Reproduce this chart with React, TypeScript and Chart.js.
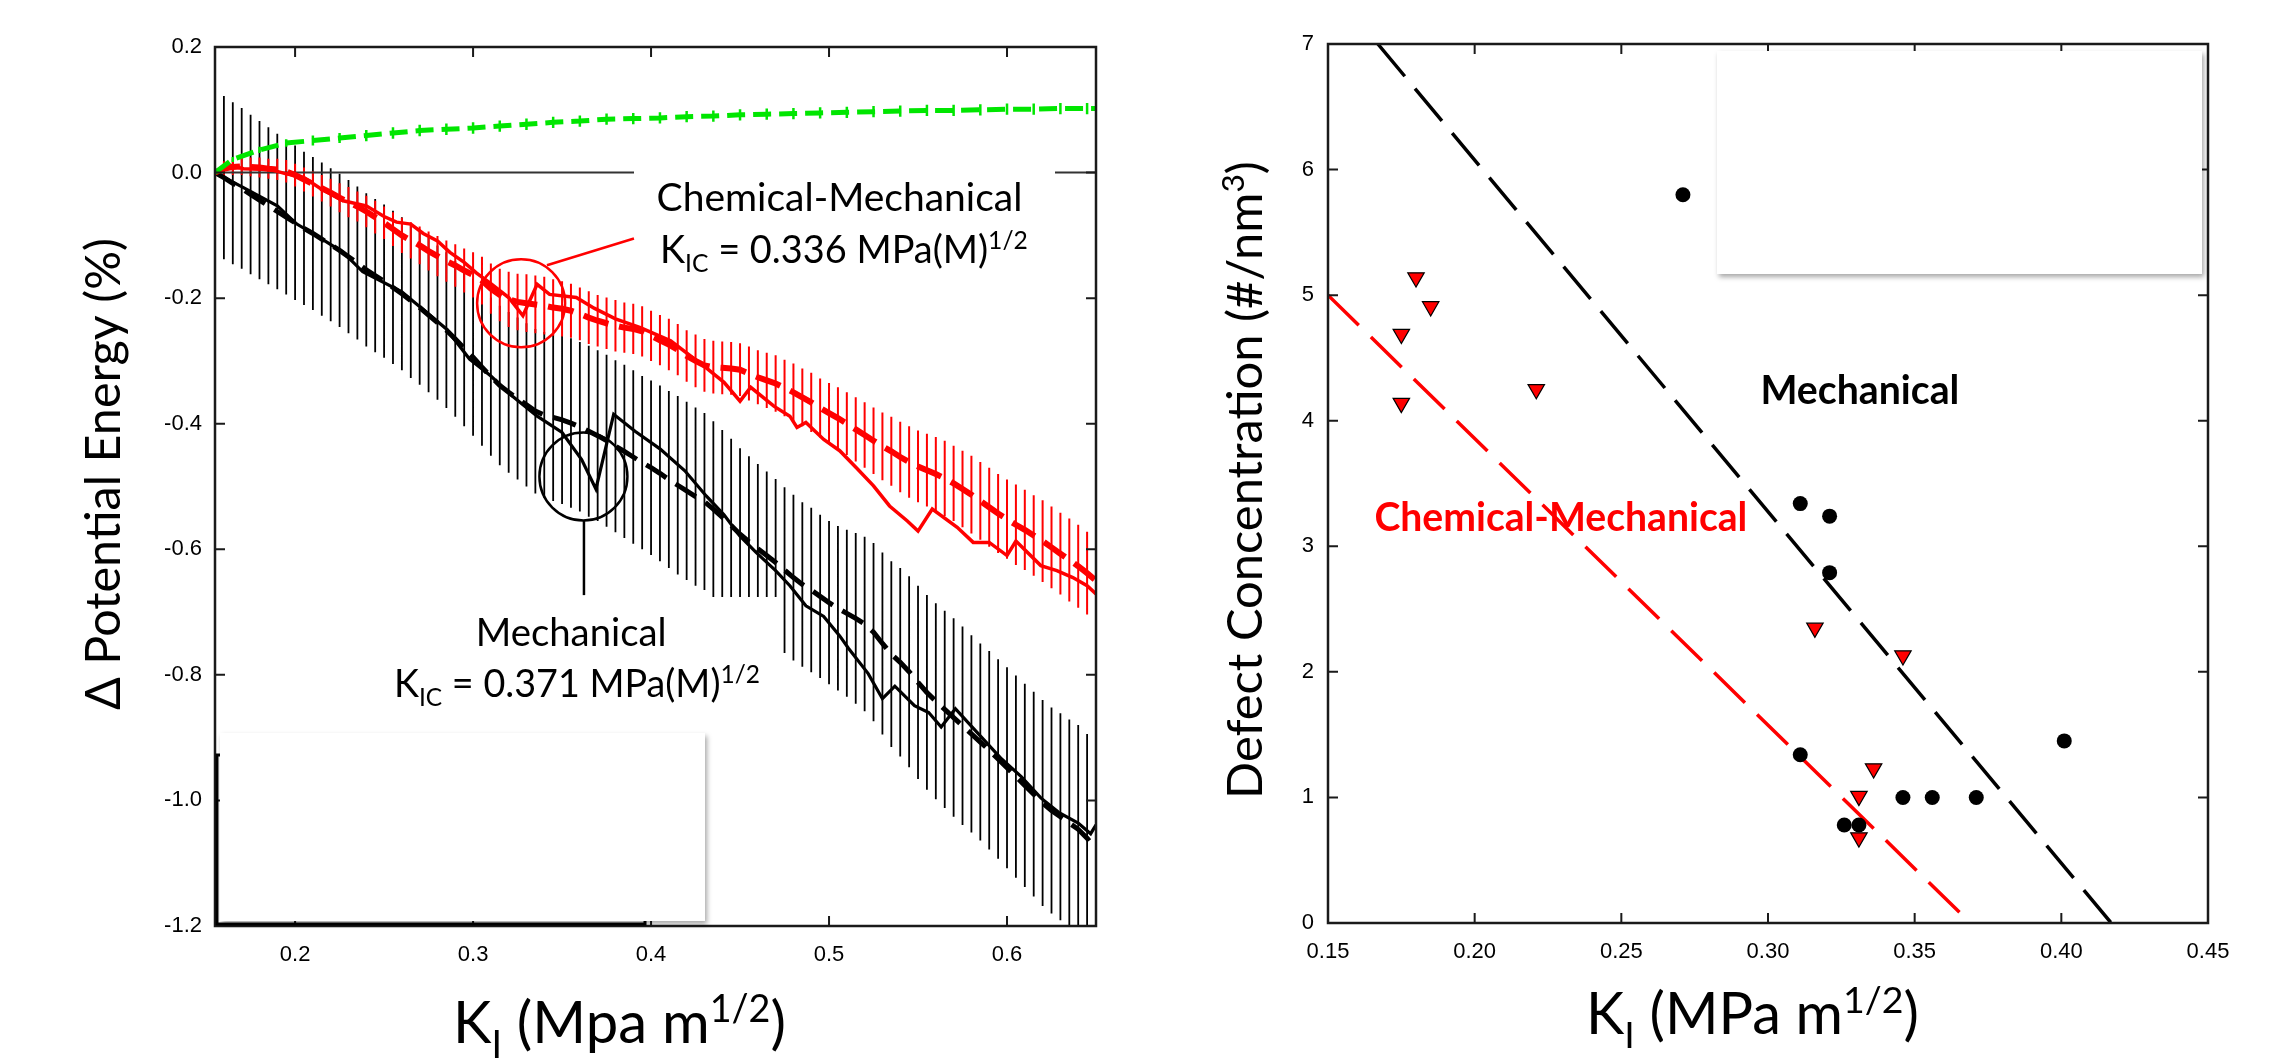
import React, { useEffect, useRef } from "react";
import { Chart, registerables } from "chart.js";

Chart.register(...registerables);

// ================= Left panel: change of potential energy vs K_I =================
const kGrid = [
  0.155, 0.16, 0.165, 0.17, 0.175, 0.18, 0.185, 0.19, 0.195, 0.2,
  0.205, 0.21, 0.215, 0.22, 0.225, 0.23, 0.235, 0.24, 0.245, 0.25,
  0.255, 0.26, 0.265, 0.27, 0.275, 0.28, 0.285, 0.29, 0.295, 0.3,
  0.305, 0.31, 0.315, 0.32, 0.325, 0.33, 0.335, 0.34, 0.345, 0.35,
  0.355, 0.36, 0.365, 0.37, 0.375, 0.38, 0.385, 0.39, 0.395, 0.4,
  0.405, 0.41, 0.415, 0.42, 0.425, 0.43, 0.435, 0.44, 0.445, 0.45,
  0.455, 0.46, 0.465, 0.47, 0.475, 0.48, 0.485, 0.49, 0.495, 0.5,
  0.505, 0.51, 0.515, 0.52, 0.525, 0.53, 0.535, 0.54, 0.545, 0.55,
  0.555, 0.56, 0.565, 0.57, 0.575, 0.58, 0.585, 0.59, 0.595, 0.6,
  0.605, 0.61, 0.615, 0.62, 0.625, 0.63, 0.635, 0.64, 0.645, 0.65,
];

const mechanicalMean = [
  0.0, -0.008, -0.017, -0.025, -0.035, -0.044, -0.053, -0.062, -0.071, -0.08,
  -0.089, -0.097, -0.106, -0.115, -0.124, -0.134, -0.144, -0.155, -0.164, -0.173,
  -0.183, -0.193, -0.204, -0.215, -0.227, -0.239, -0.251, -0.265, -0.28, -0.294,
  -0.31, -0.325, -0.339, -0.35, -0.36, -0.37, -0.38, -0.386, -0.39, -0.394,
  -0.399, -0.405, -0.412, -0.419, -0.427, -0.436, -0.444, -0.453, -0.462, -0.47,
  -0.479, -0.489, -0.498, -0.507, -0.516, -0.524, -0.536, -0.549, -0.562, -0.576,
  -0.588, -0.599, -0.61, -0.621, -0.633, -0.645, -0.656, -0.665, -0.675, -0.685,
  -0.694, -0.702, -0.71, -0.719, -0.732, -0.75, -0.767, -0.78, -0.795, -0.812,
  -0.828, -0.842, -0.855, -0.868, -0.881, -0.894, -0.907, -0.92, -0.934, -0.948,
  -0.962, -0.976, -0.99, -1.004, -1.016, -1.026, -1.036, -1.046, -1.06, -1.078,
];

const mechanicalStd = [
  0.131, 0.13, 0.129, 0.128, 0.127, 0.126, 0.125, 0.124, 0.123, 0.123,
  0.122, 0.122, 0.122, 0.122, 0.122, 0.122, 0.122, 0.122, 0.122, 0.122,
  0.122, 0.122, 0.123, 0.123, 0.123, 0.123, 0.124, 0.124, 0.124, 0.125,
  0.125, 0.126, 0.127, 0.128, 0.129, 0.13, 0.131, 0.132, 0.133, 0.134,
  0.135, 0.135, 0.136, 0.136, 0.137, 0.137, 0.138, 0.138, 0.138, 0.139,
  0.14, 0.141, 0.142, 0.142, 0.142, 0.141, 0.14, 0.139, 0.138, 0.137,
  0.136, 0.135, 0.134, 0.133, 0.132, 0.132, 0.131, 0.131, 0.13, 0.13,
  0.131, 0.133, 0.136, 0.139, 0.142, 0.145, 0.148, 0.15, 0.152, 0.154,
  0.155, 0.156, 0.157, 0.158, 0.158, 0.157, 0.157, 0.158, 0.159, 0.16,
  0.161, 0.162, 0.163, 0.164, 0.164, 0.165, 0.165, 0.166, 0.166, 0.166,
];

const chemMechMean = [
  0.0, 0.006, 0.009, 0.01, 0.009, 0.008, 0.006, 0.005, 0.002, -0.004,
  -0.011, -0.018, -0.025, -0.032, -0.04, -0.047, -0.054, -0.062, -0.071, -0.08,
  -0.09, -0.1, -0.108, -0.116, -0.125, -0.133, -0.141, -0.148, -0.156, -0.163,
  -0.172, -0.185, -0.195, -0.202, -0.206, -0.208, -0.21, -0.212, -0.215, -0.217,
  -0.22, -0.225, -0.231, -0.236, -0.24, -0.244, -0.247, -0.249, -0.253, -0.26,
  -0.267, -0.274, -0.282, -0.292, -0.3, -0.307, -0.31, -0.311, -0.312, -0.314,
  -0.32, -0.326, -0.331, -0.336, -0.343, -0.35, -0.358, -0.366, -0.375, -0.383,
  -0.391, -0.4, -0.409, -0.418, -0.427, -0.436, -0.444, -0.453, -0.461, -0.468,
  -0.474, -0.48, -0.487, -0.495, -0.504, -0.513, -0.523, -0.533, -0.543, -0.552,
  -0.561, -0.569, -0.578, -0.587, -0.597, -0.607, -0.617, -0.627, -0.638, -0.65,
];

const chemMechStd = [
  0.01, 0.012, 0.013, 0.014, 0.015, 0.016, 0.016, 0.017, 0.018, 0.018,
  0.019, 0.02, 0.021, 0.022, 0.023, 0.024, 0.024, 0.025, 0.026, 0.026,
  0.027, 0.028, 0.029, 0.03, 0.031, 0.032, 0.033, 0.034, 0.035, 0.036,
  0.038, 0.04, 0.042, 0.044, 0.045, 0.046, 0.046, 0.046, 0.045, 0.044,
  0.043, 0.042, 0.042, 0.041, 0.041, 0.041, 0.04, 0.04, 0.04, 0.04,
  0.04, 0.041, 0.041, 0.041, 0.042, 0.042, 0.042, 0.042, 0.042, 0.042,
  0.043, 0.043, 0.044, 0.045, 0.045, 0.046, 0.046, 0.047, 0.047, 0.048,
  0.049, 0.05, 0.051, 0.052, 0.053, 0.054, 0.055, 0.056, 0.057, 0.057,
  0.058, 0.059, 0.06, 0.06, 0.061, 0.062, 0.062, 0.063, 0.063, 0.063,
  0.064, 0.064, 0.064, 0.065, 0.065, 0.065, 0.066, 0.066, 0.066, 0.066,
];

const mechanicalRunK = [
  0.155, 0.171, 0.19, 0.201, 0.214, 0.227, 0.238, 0.26, 0.285, 0.298,
  0.31, 0.322, 0.336, 0.35, 0.361, 0.369, 0.379, 0.391, 0.405, 0.419,
  0.431, 0.441, 0.45, 0.459, 0.47, 0.478, 0.487, 0.497, 0.506, 0.511,
  0.522, 0.53, 0.537, 0.548, 0.556, 0.563, 0.571, 0.582, 0.597, 0.608,
  0.619, 0.629, 0.64, 0.647, 0.65,
];
const mechanicalRun = [
  0.0, -0.024, -0.053, -0.082, -0.104, -0.127, -0.158, -0.19, -0.249, -0.297,
  -0.324, -0.356, -0.388, -0.414, -0.457, -0.504, -0.385, -0.412, -0.44, -0.475,
  -0.515, -0.545, -0.579, -0.605, -0.634, -0.658, -0.69, -0.707, -0.738, -0.758,
  -0.798, -0.838, -0.818, -0.849, -0.86, -0.883, -0.854, -0.888, -0.934, -0.962,
  -0.996, -1.019, -1.036, -1.053, -1.039,
];

const chemMechRunK = [
  0.155, 0.163, 0.171, 0.186, 0.195, 0.205, 0.214, 0.227, 0.24, 0.25,
  0.257, 0.265, 0.272, 0.28, 0.287, 0.295, 0.302, 0.31, 0.32, 0.328,
  0.336, 0.343, 0.358, 0.368, 0.38, 0.394, 0.411, 0.431, 0.441, 0.45,
  0.456, 0.469, 0.478, 0.482, 0.487, 0.497, 0.506, 0.516, 0.525, 0.534,
  0.544, 0.55, 0.558, 0.572, 0.581, 0.59, 0.6, 0.605, 0.619, 0.628,
  0.637, 0.645, 0.65,
];
const chemMechRun = [
  0.0, 0.012, 0.006, 0.005, -0.002, -0.008, -0.025, -0.045, -0.053, -0.07,
  -0.079, -0.082, -0.097, -0.109, -0.127, -0.143, -0.16, -0.177, -0.199, -0.228,
  -0.178, -0.194, -0.199, -0.216, -0.233, -0.247, -0.268, -0.311, -0.334, -0.364,
  -0.342, -0.372, -0.388, -0.406, -0.398, -0.425, -0.443, -0.472, -0.499, -0.531,
  -0.555, -0.571, -0.536, -0.565, -0.589, -0.589, -0.61, -0.587, -0.626, -0.634,
  -0.645, -0.658, -0.671,
];

const controlK = [
  0.155, 0.165, 0.18, 0.195, 0.21, 0.225, 0.24, 0.255, 0.27, 0.285,
  0.3, 0.315, 0.33, 0.345, 0.36, 0.375, 0.39, 0.405, 0.42, 0.435,
  0.45, 0.465, 0.48, 0.495, 0.51, 0.525, 0.54, 0.555, 0.57, 0.585,
  0.6, 0.615, 0.63, 0.645, 0.65,
];
const controlMean = [
  0.0, 0.021, 0.036, 0.047, 0.051, 0.055, 0.059, 0.063, 0.067, 0.069,
  0.071, 0.074, 0.077, 0.08, 0.082, 0.085, 0.086, 0.087, 0.089, 0.09,
  0.092, 0.093, 0.094, 0.095, 0.096, 0.097, 0.098, 0.099, 0.099, 0.1,
  0.101, 0.101, 0.102, 0.102, 0.102,
];
const controlStd = [
  0.0, 0.004, 0.005, 0.006, 0.008, 0.008, 0.009, 0.009, 0.009, 0.009,
  0.009, 0.009, 0.009, 0.009, 0.009, 0.009, 0.009, 0.009, 0.009, 0.009,
  0.009, 0.009, 0.009, 0.009, 0.009, 0.009, 0.009, 0.009, 0.009, 0.009,
  0.009, 0.009, 0.009, 0.009, 0.0,
];

const zeroRefK = [0.155, 0.65];
const zeroRef = [0, 0];

const leftXTicks = [0.2, 0.3, 0.4, 0.5, 0.6];
const leftYTicks = [0.2, 0.0, -0.2, -0.4, -0.6, -0.8, -1.0, -1.2];

// ================= Right panel: defect concentration vs K_I =================
const mechK = [0.271, 0.311, 0.321, 0.321, 0.311, 0.401, 0.346, 0.356, 0.371, 0.326, 0.331];
const mechDefects = [5.8, 3.34, 3.24, 2.79, 1.34, 1.45, 1.0, 1.0, 1.0, 0.78, 0.78];
const chemK = [0.18, 0.185, 0.175, 0.175, 0.221, 0.316, 0.346, 0.336, 0.331, 0.331];
const chemDefects = [5.14, 4.91, 4.69, 4.14, 4.25, 2.35, 2.13, 1.23, 1.01, 0.68];
const mechFitK = [0.167, 0.417];
const mechFitD = [7, 0];
const chemFitK = [0.15, 0.369];
const chemFitD = [5, 0];

const rightXTicks = [0.15, 0.2, 0.25, 0.3, 0.35, 0.4, 0.45];
const rightYTicks = [0, 1, 2, 3, 4, 5, 6, 7];

// ================= helpers =================
const SANS = '"Liberation Sans", Arial, Helvetica, sans-serif';
const CAL = 'Lato, "Open Sans", "DejaVu Sans", sans-serif';
const RED = "#ff0000";
const GREEN = "#00e600";

const pts = (xs: number[], ys: number[]) => xs.map((x, i) => ({ x, y: ys[i] }));

type Part = { t: string; s?: number; dy?: number };
const sub = (t: string): Part => ({ t, s: 0.65, dy: 0.25 });
const sup = (t: string): Part => ({ t, s: 0.65, dy: -0.36 });

function partsWidth(ctx: CanvasRenderingContext2D, parts: Part[], size: number, weight: number) {
  let w = 0;
  for (const p of parts) {
    ctx.font = `${weight} ${size * (p.s ?? 1)}px ${CAL}`;
    w += ctx.measureText(p.t).width;
  }
  return w;
}

function drawParts(ctx: CanvasRenderingContext2D, parts: Part[], left: number, base: number, size: number, weight: number, color: string) {
  ctx.fillStyle = color;
  ctx.textAlign = "left";
  ctx.textBaseline = "alphabetic";
  let x = left;
  for (const p of parts) {
    ctx.font = `${weight} ${size * (p.s ?? 1)}px ${CAL}`;
    ctx.fillText(p.t, x, base + (p.dy ?? 0) * size);
    x += ctx.measureText(p.t).width;
  }
}

function fittedText(
  ctx: CanvasRenderingContext2D,
  parts: Part[],
  o: { x: number; y: number; width: number; weight?: number; color?: string; rotate?: boolean }
) {
  const weight = o.weight ?? 400;
  const size = (100 * o.width) / partsWidth(ctx, parts, 100, weight);
  const w = partsWidth(ctx, parts, size, weight);
  ctx.save();
  if (o.rotate) {
    ctx.translate(o.x, o.y);
    ctx.rotate(-Math.PI / 2);
    drawParts(ctx, parts, -w / 2, 0, size, weight, o.color ?? "#000");
  } else {
    drawParts(ctx, parts, o.x, o.y, size, weight, o.color ?? "#000");
  }
  ctx.restore();
}

function errorBars(chart: any, xs: number[], ys: number[], errs: number[], color: string, width: number) {
  const { ctx, chartArea: a, scales } = chart;
  ctx.save();
  ctx.beginPath();
  ctx.rect(a.left, a.top, a.right - a.left, a.bottom - a.top);
  ctx.clip();
  ctx.setLineDash([]);
  ctx.strokeStyle = color;
  ctx.lineWidth = width;
  ctx.beginPath();
  for (let i = 0; i < xs.length; i++) {
    if (!errs[i]) continue;
    const px = scales.x.getPixelForValue(xs[i]);
    ctx.moveTo(px, scales.y.getPixelForValue(ys[i] + errs[i]));
    ctx.lineTo(px, scales.y.getPixelForValue(ys[i] - errs[i]));
  }
  ctx.stroke();
  ctx.restore();
}

function frame(chart: any, xTicks: number[], yTicks: number[]) {
  const { ctx, chartArea: a, scales } = chart;
  ctx.save();
  ctx.setLineDash([]);
  ctx.strokeStyle = "#1a1a1a";
  ctx.lineWidth = 2.5;
  ctx.strokeRect(a.left, a.top, a.right - a.left, a.bottom - a.top);
  ctx.lineWidth = 2;
  ctx.beginPath();
  for (const v of xTicks) {
    const p = scales.x.getPixelForValue(v);
    ctx.moveTo(p, a.bottom);
    ctx.lineTo(p, a.bottom - 10);
    ctx.moveTo(p, a.top);
    ctx.lineTo(p, a.top + 10);
  }
  for (const v of yTicks) {
    const p = scales.y.getPixelForValue(v);
    ctx.moveTo(a.left, p);
    ctx.lineTo(a.left + 10, p);
    ctx.moveTo(a.right, p);
    ctx.lineTo(a.right - 10, p);
  }
  ctx.stroke();
  ctx.restore();
}

function shadowBox(ctx: CanvasRenderingContext2D, x: number, y: number, w: number, h: number) {
  ctx.save();
  ctx.shadowColor = "rgba(0,0,0,0.35)";
  ctx.shadowBlur = 5;
  ctx.shadowOffsetX = 2;
  ctx.shadowOffsetY = 3;
  ctx.fillStyle = "#fff";
  ctx.fillRect(x, y, w, h);
  ctx.restore();
}

const lineBase = { pointRadius: 0, tension: 0, fill: false };

function axis(min: number, max: number, ticks: number[], fmt: (v: number) => string, fitKey: "width" | "height", fitVal: number, pad: number) {
  return {
    type: "linear" as const,
    min,
    max,
    afterBuildTicks: (s: any) => {
      s.ticks = ticks.map((v) => ({ value: v }));
    },
    afterFit: (s: any) => {
      s[fitKey] = fitVal;
    },
    grid: { display: false, drawTicks: false },
    border: { display: false },
    ticks: {
      autoSkip: false,
      maxRotation: 0,
      padding: pad,
      color: "#000",
      font: { family: SANS, size: 22 },
      callback: (v: any) => fmt(Number(v)),
    },
  };
}

function leftConfig(): any {
  const decor = {
    id: "leftDecor",
    beforeDatasetsDraw(chart: any) {
      errorBars(chart, kGrid, mechanicalMean, mechanicalStd, "#000", 1.8);
      errorBars(chart, kGrid, chemMechMean, chemMechStd, RED, 2);
    },
    afterDatasetsDraw(chart: any) {
      const { ctx, scales } = chart;
      const X = (v: number) => scales.x.getPixelForValue(v);
      const Y = (v: number) => scales.y.getPixelForValue(v);
      errorBars(chart, controlK, controlMean, controlStd, GREEN, 2.5);
      frame(chart, leftXTicks, leftYTicks);

      ctx.save();
      // white label boxes
      ctx.fillStyle = "#fff";
      ctx.fillRect(634, 160, 421, 125);
      ctx.fillRect(380, 597, 403, 120);
      // circles and leader lines
      ctx.setLineDash([]);
      ctx.lineWidth = 2.5;
      ctx.strokeStyle = RED;
      ctx.beginPath();
      ctx.arc(X(0.327), Y(-0.208), 44, 0, Math.PI * 2);
      ctx.stroke();
      ctx.beginPath();
      ctx.moveTo(X(0.3415), Y(-0.1476));
      ctx.lineTo(X(0.3904), Y(-0.105));
      ctx.stroke();
      ctx.strokeStyle = "#000";
      ctx.beginPath();
      ctx.arc(X(0.362), Y(-0.484), 44, 0, Math.PI * 2);
      ctx.stroke();
      ctx.beginPath();
      ctx.moveTo(X(0.3623), Y(-0.5545));
      ctx.lineTo(X(0.3623), Y(-0.673));
      ctx.stroke();
      // lower-left pasted box
      ctx.lineWidth = 3;
      ctx.strokeRect(217, 755, 428, 169);
      ctx.restore();
      shadowBox(ctx, 220, 733, 485, 188);

      fittedText(ctx, [{ t: "Chemical-Mechanical" }], { x: 656.6, y: 210.7, width: 366 });
      fittedText(ctx, [{ t: "K" }, sub("IC"), { t: " = 0.336 MPa(M)" }, sup("1/2")], { x: 660, y: 263, width: 368 });
      fittedText(ctx, [{ t: "Mechanical" }], { x: 475.7, y: 646, width: 191 });
      fittedText(ctx, [{ t: "K" }, sub("IC"), { t: " = 0.371 MPa(M)" }, sup("1/2")], { x: 394, y: 697, width: 366 });

      fittedText(ctx, [{ t: "Δ Potential Energy (%)" }], { x: 120, y: 474, width: 472, rotate: true });
      fittedText(ctx, [{ t: "K" }, sub("I"), { t: " (Mpa m" }, sup("1/2"), { t: ")" }], { x: 453, y: 1043, width: 333 });
    },
  };

  return {
    type: "line",
    data: {
      datasets: [
        { ...lineBase, label: "Control", data: pts(controlK, controlMean), borderColor: GREEN, borderWidth: 5, borderDash: [18, 8], order: 0 },
        { ...lineBase, label: "Chemical-Mechanical (mean)", data: pts(kGrid, chemMechMean), borderColor: RED, borderWidth: 6, borderDash: [26, 11], order: 1 },
        { ...lineBase, label: "Chemical-Mechanical (run)", data: pts(chemMechRunK, chemMechRun), borderColor: RED, borderWidth: 3.5, order: 2 },
        { ...lineBase, label: "Mechanical (mean)", data: pts(kGrid, mechanicalMean), borderColor: "#000", borderWidth: 5, borderDash: [24, 11], order: 3 },
        { ...lineBase, label: "Mechanical (run)", data: pts(mechanicalRunK, mechanicalRun), borderColor: "#000", borderWidth: 3.2, order: 4 },
        { ...lineBase, label: "zero", data: pts(zeroRefK, zeroRef), borderColor: "#333", borderWidth: 2, order: 5 },
      ],
    },
    options: {
      responsive: false,
      animation: false,
      devicePixelRatio: 1,
      events: [],
      layout: { padding: { top: 47, right: 54, bottom: 0, left: 0 } },
      plugins: { legend: { display: false }, tooltip: { enabled: false }, title: { display: false } },
      scales: {
        x: axis(0.155, 0.65, leftXTicks, (v) => v.toFixed(1), "height", 132, 16),
        y: axis(-1.2, 0.2, leftYTicks, (v) => v.toFixed(1), "width", 215, 13),
      },
    },
    plugins: [decor],
  };
}

function rightConfig(): any {
  const decor = {
    id: "rightDecor",
    afterDatasetsDraw(chart: any) {
      const { ctx } = chart;
      frame(chart, rightXTicks, rightYTicks);
      shadowBox(ctx, 567, 51, 485, 223);
      fittedText(ctx, [{ t: "Mechanical" }], { x: 610.4, y: 404, width: 199, weight: 700 });
      fittedText(ctx, [{ t: "Chemical-Mechanical" }], { x: 224.4, y: 530.5, width: 373, weight: 700, color: RED });
      fittedText(ctx, [{ t: "Defect Concentration (#/nm" }, sup("3"), { t: ")" }], { x: 112, y: 480, width: 638, rotate: true });
      fittedText(ctx, [{ t: "K" }, sub("I"), { t: " (MPa m" }, sup("1/2"), { t: ")" }], { x: 436, y: 1034, width: 333 });
    },
  };

  return {
    type: "scatter",
    data: {
      datasets: [
        {
          label: "Mechanical",
          data: pts(mechK, mechDefects),
          pointStyle: "circle",
          pointRadius: 7.5,
          backgroundColor: "#000",
          pointBackgroundColor: "#000",
          borderColor: "#000",
          pointBorderColor: "#000",
          borderWidth: 0,
          pointBorderWidth: 0,
          order: 0,
        },
        {
          label: "Chemical-Mechanical",
          data: pts(chemK, chemDefects),
          pointStyle: "triangle",
          pointRotation: 180,
          rotation: 180,
          pointRadius: 9.5,
          backgroundColor: RED,
          pointBackgroundColor: RED,
          borderColor: "#000",
          pointBorderColor: "#000",
          borderWidth: 1.2,
          pointBorderWidth: 1.2,
          order: 1,
        },
        {
          label: "Mechanical fit",
          data: pts(mechFitK, mechFitD),
          showLine: true,
          pointRadius: 0,
          borderColor: "#000",
          borderWidth: 3.5,
          borderDash: [42, 16],
          order: 2,
        },
        {
          label: "Chemical-Mechanical fit",
          data: pts(chemFitK, chemFitD),
          showLine: true,
          pointRadius: 0,
          borderColor: RED,
          borderWidth: 3.5,
          borderDash: [43, 17],
          order: 3,
        },
      ],
    },
    options: {
      responsive: false,
      animation: false,
      devicePixelRatio: 1,
      events: [],
      layout: { padding: { top: 44, right: 66, bottom: 0, left: 0 } },
      plugins: { legend: { display: false }, tooltip: { enabled: false }, title: { display: false } },
      scales: {
        x: axis(0.15, 0.45, rightXTicks, (v) => v.toFixed(2), "height", 135, 16),
        y: axis(0, 7, rightYTicks, (v) => String(Math.round(v)), "width", 178, 14),
      },
    },
    plugins: [decor],
  };
}

export default function App() {
  const leftRef = useRef<HTMLCanvasElement>(null);
  const rightRef = useRef<HTMLCanvasElement>(null);

  useEffect(() => {
    const left = new Chart(leftRef.current as HTMLCanvasElement, leftConfig());
    const right = new Chart(rightRef.current as HTMLCanvasElement, rightConfig());
    return () => {
      left.destroy();
      right.destroy();
    };
  }, []);

  return (
    <div style={{ position: "absolute", left: 0, top: 0, width: 2274, height: 1058, background: "#fff", overflow: "hidden" }}>
      <canvas ref={leftRef} width={1150} height={1058} style={{ position: "absolute", left: 0, top: 0, width: 1150, height: 1058 }} />
      <canvas ref={rightRef} width={1124} height={1058} style={{ position: "absolute", left: 1150, top: 0, width: 1124, height: 1058 }} />
    </div>
  );
}
